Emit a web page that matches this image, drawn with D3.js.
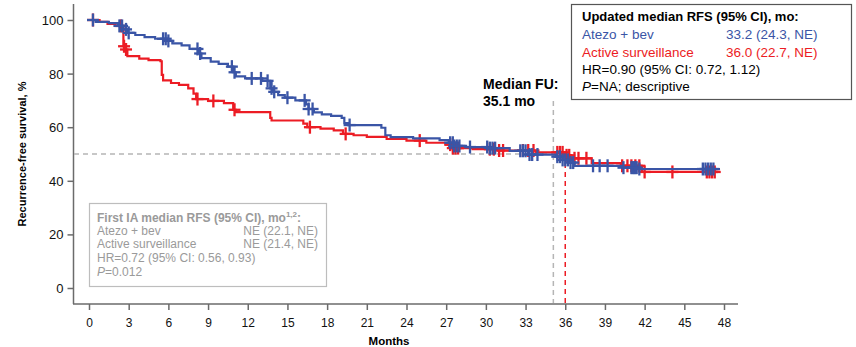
<!DOCTYPE html>
<html><head><meta charset="utf-8">
<script src="https://cdn.jsdelivr.net/npm/d3@7"></script>
<style>body{margin:0;background:#fff}svg{display:block;font-family:"Liberation Sans",Arial,sans-serif}</style>
</head><body><svg id="c" width="856" height="347"></svg>
<script>
const xTicks = [0,3,6,9,12,15,18,21,24,27,30,33,36,39,42,45,48];
const yTicks = [0,20,40,60,80,100];
const endTime = 47.7;
const atezoT = [0,0.5,1.5,2.2,2.6,2.9,3.5,4.2,5.0,5.9,6.3,7.0,7.6,8.3,8.5,9.2,9.8,10.5,10.9,11.1,11.8,13.1,13.7,13.9,14.3,14.8,15.6,16.4,16.6,17.0,17.6,18.3,19.1,19.3,19.6,22.1,22.4,22.8,24.5,26.5,27.2,27.6,28.5,30.2,31.8,33.2,35.3,35.8,36.3,36.7,40.3,41.5];
const atezoS = [100,99.3,98.8,97.8,96.5,95.2,94.4,93.6,93.0,92.2,91.3,90.5,89.2,87.5,85.8,84.5,83.6,82.6,80.5,79.0,78.2,77.3,74.5,73.2,72.0,71.0,70.0,68.5,66.8,65.5,64.8,64.2,63.5,61.5,60.8,59.8,57.0,56.3,55.8,55.2,54.2,53.0,52.6,52.2,51.2,49.8,49.0,47.8,46.8,45.6,44.9,44.4];
const atezoCensor = [0.3,2.3,2.5,2.8,3.0,5.6,5.8,6.0,8.2,8.4,10.8,11.0,12.3,13.0,13.5,13.8,14.0,15.0,16.3,16.6,16.9,19.7,27.3,27.5,27.6,27.8,28.0,28.8,30.1,30.3,30.5,30.7,32.6,32.8,33.0,33.3,33.5,33.9,35.4,35.6,35.8,36.0,36.2,36.4,36.6,38.1,38.6,39.2,40.4,41.0,41.1,41.2,41.3,41.4,41.6,46.4,46.6,46.8,47.0,47.2];
const activeT = [0,0.8,1.4,2.0,2.5,2.6,2.75,2.9,3.8,4.5,5.4,5.5,5.6,6.2,6.8,7.5,7.9,8.1,9.0,10.2,10.9,11.1,13.7,13.8,16.2,16.5,17.5,18.5,19.2,20.0,21.0,22.5,24.0,25.5,27.0,27.5,29.0,31.0,33.8,36.0,36.4,38.0,40.2,41.8];
const activeS = [100,99.3,98.5,97.8,97.0,90.2,89.0,86.5,85.6,85.0,84.6,79.5,77.5,76.5,75.8,74.5,72.5,70.5,69.8,69.0,66.5,65.6,63.5,62.5,61.3,60.0,59.5,58.8,57.5,57.0,56.4,55.6,55.0,54.2,53.5,52.2,51.8,51.3,50.6,49.5,48.4,46.6,45.6,43.3];
const activeCensor = [0.3,2.4,2.65,2.8,8.2,9.4,11.0,16.7,19.4,25.0,27.3,27.5,27.7,27.9,30.3,30.6,31.0,31.3,32.8,33.2,33.6,35.4,35.6,35.8,36.1,36.3,36.7,37.0,37.6,40.3,40.7,41.0,41.3,41.6,42.0,44.1,46.7,46.9,47.1,47.3];
const medianFU = 35.1, activeMedian = 36.0;
const legendTitle = "Updated median RFS (95% CI), mo:";
const legendRows = [["Atezo + bev","33.2 (24.3, NE)"],["Active surveillance","36.0 (22.7, NE)"]];
const iaRows = [["Atezo + bev","NE (22.1, NE)"],["Active surveillance","NE (21.4, NE)"]];

const BLUE="#3a55a6", RED="#ec1c24";
const svg = d3.select("#c");
const x = d3.scaleLinear([0,48],[89,724]);
const y = d3.scaleLinear([0,100],[288,20]);
const AX="#6b6b6b";

svg.append("line").attr("x1",73.5).attr("x2",73.5).attr("y1",4).attr("y2",304).attr("stroke",AX).attr("stroke-width",1.5);
svg.append("line").attr("x1",73).attr("x2",738).attr("y1",304).attr("y2",304).attr("stroke",AX).attr("stroke-width",1.5);
const yAx = svg.append("g").attr("transform","translate(73.5,0)").call(d3.axisLeft(y).tickValues(yTicks).tickSize(6).tickPadding(4));
const xAx = svg.append("g").attr("transform","translate(0,304)").call(d3.axisBottom(x).tickValues(xTicks).tickSize(6).tickPadding(8));
[yAx,xAx].forEach(g=>{g.select(".domain").remove();g.selectAll("line").attr("stroke",AX).attr("stroke-width",1.5);});
yAx.selectAll("text").attr("font-size",13).attr("fill","#111").attr("dy","0.35em");
xAx.selectAll("text").attr("font-size",12).attr("fill","#111");
svg.append("text").attr("x",389).attr("y",345).attr("text-anchor","middle").attr("font-size",11.5).attr("font-weight","bold").text("Months");
svg.append("text").attr("transform","translate(26,154) rotate(-90)").attr("text-anchor","middle").attr("font-size",11).attr("font-weight","bold").text("Recurrence-free survival, %");

svg.append("line").attr("x1",74).attr("x2",x(medianFU)).attr("y1",y(50)).attr("y2",y(50)).attr("stroke","#b5b5b5").attr("stroke-width",1.3).attr("stroke-dasharray","5,4");
svg.append("line").attr("x1",x(medianFU)).attr("x2",x(medianFU)).attr("y1",101).attr("y2",303).attr("stroke","#b5b5b5").attr("stroke-width",1.5).attr("stroke-dasharray","5,4");
svg.append("line").attr("x1",x(activeMedian)).attr("x2",x(activeMedian)).attr("y1",y(50)).attr("y2",303).attr("stroke",RED).attr("stroke-width",1.5).attr("stroke-dasharray","5,4");

svg.append("text").attr("x",483).attr("y",89).attr("font-size",14).attr("font-weight","bold").text("Median FU:");
svg.append("text").attr("x",483).attr("y",106).attr("font-size",14).attr("font-weight","bold").text("35.1 mo");

function drawKM(T,S,C,color){
  const pts = T.map((t,i)=>[t,S[i]]); pts.push([endTime,S[S.length-1]]);
  const line = d3.line().x(d=>x(d[0])).y(d=>y(d[1])).curve(d3.curveStepAfter);
  svg.append("path").attr("d",line(pts)).attr("fill","none").attr("stroke",color).attr("stroke-width",2.2);
  const val = t=>{let v=S[0];for(let i=0;i<T.length;i++){if(T[i]<=t)v=S[i];}return v;};
  const g = svg.append("g").attr("stroke",color).attr("stroke-width",2.3);
  C.forEach(t=>{const cx=x(t), cy=y(val(t));
    g.append("line").attr("x1",cx).attr("x2",cx).attr("y1",cy-6.5).attr("y2",cy+6.5);
    g.append("line").attr("x1",cx-6).attr("x2",cx+6).attr("y1",cy).attr("y2",cy);});
}
drawKM(activeT,activeS,activeCensor,RED);
drawKM(atezoT,atezoS,atezoCensor,BLUE);

svg.append("rect").attr("x",571.5).attr("y",4.5).attr("width",280).attr("height",95).attr("fill","#fff").attr("stroke","#555").attr("stroke-width",1.2);
const L = svg.append("g").attr("font-size",13.5);
L.append("text").attr("x",582).attr("y",21).attr("font-weight","bold").attr("font-size",13).text(legendTitle);
[BLUE,RED].forEach((c,i)=>{
  L.append("text").attr("x",582).attr("y",39+i*17.5).attr("fill",c).text(legendRows[i][0]);
  L.append("text").attr("x",726).attr("y",39+i*17.5).attr("fill",c).text(legendRows[i][1]);
});
L.append("text").attr("x",582).attr("y",74).text("HR=0.90 (95% CI: 0.72, 1.12)");
const pl = L.append("text").attr("x",582).attr("y",91);
pl.append("tspan").attr("font-style","italic").text("P");
pl.append("tspan").text("=NA; descriptive");

svg.append("rect").attr("x",89.5).attr("y",203.5).attr("width",237).attr("height",83).attr("fill","#fff").attr("stroke","#bdbdbd").attr("stroke-width",1.2);
const G = svg.append("g").attr("font-size",12).attr("fill","#9a9a9a");
const t1 = G.append("text").attr("x",97).attr("y",222).attr("font-weight","bold");
t1.append("tspan").text("First IA median RFS (95% CI), mo");
t1.append("tspan").attr("font-size",8).attr("dy",-5).text("1,2");
t1.append("tspan").attr("dy",5).text(":");
iaRows.forEach((r,i)=>{
  G.append("text").attr("x",97).attr("y",235+i*13).text(r[0]);
  G.append("text").attr("x",318).attr("y",235+i*13).attr("text-anchor","end").text(r[1]);
});
G.append("text").attr("x",97).attr("y",262).text("HR=0.72 (95% CI: 0.56, 0.93)");
const p2 = G.append("text").attr("x",97).attr("y",276);
p2.append("tspan").attr("font-style","italic").text("P");
p2.append("tspan").text("=0.012");
</script></body></html>
